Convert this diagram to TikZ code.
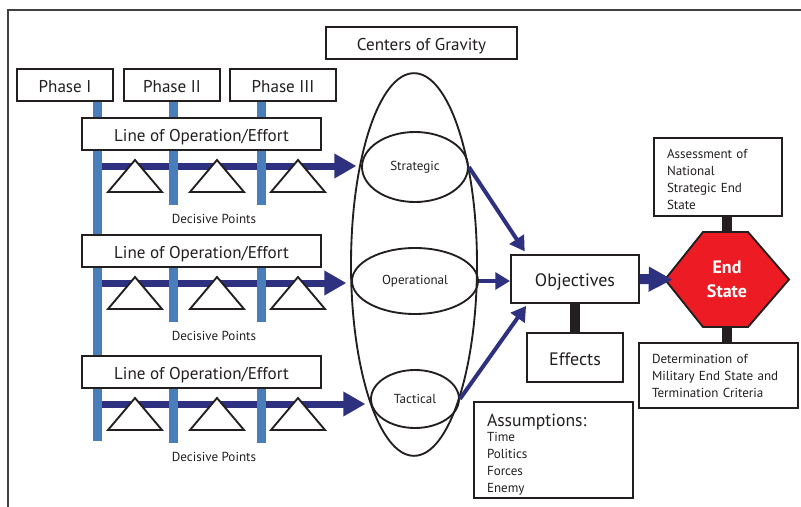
\documentclass[tikz,border=0pt]{standalone}
\usepackage{fontspec}
\setmainfont{PT Sans}
\usetikzlibrary{shapes.geometric,arrows.meta,positioning}

\definecolor{navy}{RGB}{46,49,128}
\definecolor{barblue}{RGB}{74,126,187}
\definecolor{stopred}{RGB}{237,28,36}
\definecolor{ink}{RGB}{35,31,32}

\newcommand{\bigfont}{\fontsize{12.8}{15}\selectfont}
\newcommand{\smallfont}{\fontsize{9.8}{12.75}\selectfont}

\tikzset{
    tbox/.style={draw=ink, line width=1.4pt, fill=white, inner sep=0pt, text height=11.5pt, text depth=0pt, text=ink, font=\bigfont},
    notebox/.style={draw=ink, line width=1.4pt, fill=white, inner xsep=9.75pt, inner ysep=0pt, align=left, text=ink, font=\smallfont},
    cogellipse/.style={draw=ink, ellipse, line width=1.4pt, inner sep=0pt, text=ink, font=\smallfont},
    phasebar/.style={barblue, line width=6.75pt},
    stembar/.style={ink, line width=7pt},
    loearrow/.style={navy, line width=5.25pt, -{Triangle[length=16.5pt,width=17.5pt]}},
    linkarrow/.style={navy, line width=3pt, -{Triangle[length=11pt,width=12.5pt]}},
    endarrow/.style={navy, line width=7.5pt, -{Triangle[length=18pt,width=17.5pt]}},
    tri/.style={draw=ink, line width=1.4pt, fill=white},
}

\newcommand{\drawlineop}[3]{
    % Line of operation
    \draw[loearrow, shorten >=3.5pt] (102,#1) -- (#3.west |- 102,#1);
    \draw[phasebar] (173,#1-16) -- (173,#1+39);
    \draw[phasebar] (261,#1-16) -- (261,#1+39);
    \node[tbox, minimum width=179pt, minimum height=24pt] (loe#2) at (201.5,#1-32) {Line of Operation/Effort};

    % Decisive points
    \foreach \tx in {135,217,298}
        \draw[tri] (\tx-27,#1+26) -- (\tx,#1-6) -- (\tx+27,#1+26) -- cycle;
    \node[text=ink, font=\smallfont] (dp#2) at (214,#1+53) {Decisive Points};
}

\begin{document}
\begin{tikzpicture}[x=0.75pt, y=-0.75pt]
    \useasboundingbox (0,0) rectangle (801,507);

    % Frame
    \draw[black!75, line width=1pt] (8,507) -- (8,10) -- (801,10);

    % Phases
    \node[tbox, minimum width=72pt, minimum height=24pt] (ph1) at (65,85) {Phase I};
    \node[tbox, minimum width=72pt, minimum height=24pt] (ph2) at (172,85) {Phase II};
    \node[tbox, minimum width=79.5pt, minimum height=24pt] (ph3) at (283,85) {Phase III};
    \draw[phasebar] (97,0 |- ph1.south) -- (97,441);
    \draw[phasebar] (173,0 |- ph2.south) -- (173,125);
    \draw[phasebar] (261,0 |- ph3.south) -- (261,125);

    % Centers of gravity
    \node[tbox, minimum width=143pt, minimum height=24pt] (cogtitle) at (421.5,43) {Centers of Gravity};
    \node[cogellipse, minimum width=94.5pt, minimum height=287pt] (cog) at (414,264.5) {};
    \node[cogellipse, minimum width=79.5pt, minimum height=52.5pt] (strat) at (415,167) {Strategic};
    \node[cogellipse, minimum width=94.5pt, minimum height=49.5pt] (oper) at (415,281) {Operational};
    \node[cogellipse, minimum width=66pt, minimum height=43.5pt] (tact) at (415,399) {Tactical};

    % Lines of operation
    \drawlineop{166}{1}{strat}
    \drawlineop{283}{2}{oper}
    \drawlineop{404}{3}{tact}

    % Objectives and effects
    \node[tbox, minimum width=96pt, minimum height=36pt, font=\fontsize{13.5}{16}\selectfont] (obj) at (575,279) {Objectives};
    \node[tbox, minimum width=72pt, minimum height=36.75pt, font=\fontsize{13.5}{16}\selectfont] (eff) at (575,357.5) {Effects};
    \draw[stembar] (obj.south) -- (eff.north);
    \draw[linkarrow] (strat.east) -- ([xshift=11pt,yshift=2pt]obj.north west);
    \draw[linkarrow] (oper.east) -- (obj.west |- oper.east);
    \draw[linkarrow] (tact.east) -- ([xshift=12pt,yshift=-1.5pt]obj.south west);

    % Assumptions
    \node[notebox, text width=99.75pt, minimum height=72pt] (assum) at (553.5,450) {{\fontsize{13.2}{15}\selectfont\rule{0pt}{16.5pt}Assumptions:}\\[-1.5pt] Time\\ Politics\\ Forces\\ Enemy};

    % End state
    \coordinate (es) at (727,279.5);
    \draw[draw=ink, line width=1.4pt, fill=stopred] ([shift={(-62,0)}]es) -- ([shift={(-24,-47.5)}]es) -- ([shift={(21,-47.5)}]es) -- ([shift={(62,0)}]es) -- ([shift={(21,47.5)}]es) -- ([shift={(-24,47.5)}]es) -- cycle;
    \node[text=white, font=\bfseries\fontsize{13.5}{18}\selectfont, align=center, minimum width=93pt, minimum height=71.25pt, inner sep=0pt] (endstate) at (es) {End\\State};
    \draw[endarrow, shorten >=-6pt] (obj.east) -- (endstate.west);

    \node[notebox, text width=76.5pt, minimum height=58.5pt] (assess) at (718,177) {\rule{0pt}{10pt}Assessment of\\ National\\ Strategic End\\ State};
    \node[notebox, text width=99.75pt, minimum height=48.75pt] (determ) at (718.5,375.5) {Determination of\\ Military End State and\\ Termination Criteria};
    \draw[stembar] (assess.south -| endstate.north) -- (endstate.north);
    \draw[stembar] (endstate.south) -- (determ.north -| endstate.south);
\end{tikzpicture}
\end{document}
